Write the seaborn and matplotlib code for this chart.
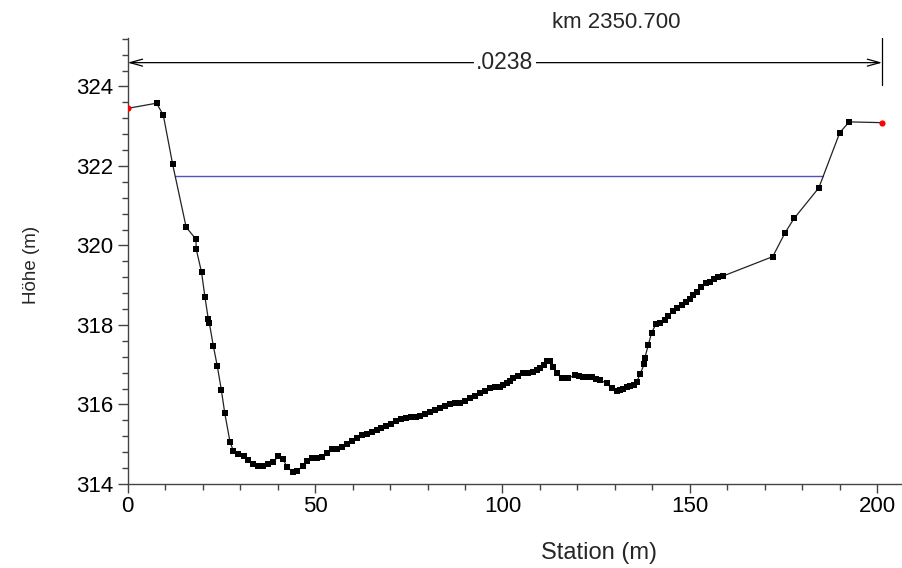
import matplotlib
matplotlib.use("Agg")
import matplotlib.pyplot as plt
from matplotlib.ticker import MultipleLocator
import seaborn as sns
import pandas as pd

# ---- data ----
station = [0, 7.7, 9.5, 12.0, 15.6, 18.2, 18.3, 19.7, 20.6, 21.5, 21.8, 22.85, 23.9, 25.0,
           25.9, 27.3, 28.2, 29.5, 30.9, 32.2, 33.5, 34.9, 36.2, 37.5, 38.9, 40.2, 41.4,
           42.6, 44.0, 45.3, 46.7, 47.8, 49.1, 50.4, 51.8, 53.1, 54.4, 55.8, 57.1, 58.4,
           59.8, 61.1, 62.4, 63.8, 65.1, 66.4, 67.7, 69.0, 70.3, 71.6, 72.9, 74.2, 75.5,
           76.8, 78.0, 79.3, 80.7, 82.0, 83.3, 84.6, 86.0, 87.3, 88.7, 90.0, 91.3, 92.6,
           94.0, 95.3, 96.7, 98.0, 99.3, 100.2, 101.1, 102.0, 102.9, 104.2, 105.5, 106.8,
           108.2, 109.1, 110.0, 111.0, 111.8, 112.7, 113.6, 114.5, 115.8, 117.6, 119.3,
           120.5, 121.6, 122.7, 123.8, 125.0, 126.0, 127.8, 129.1, 130.5, 131.3, 132.2,
           133.1, 134.0, 135.0, 135.8, 136.7, 137.8, 138.0, 138.9, 139.8, 141.0, 142.0,
           143.4, 144.2, 145.6, 146.6, 147.8, 148.9, 150.0, 150.9, 152.0, 153.1, 154.3,
           155.4, 156.4, 157.6, 158.8, 172.1, 175.4, 177.8, 184.4, 190.0, 192.5, 201.3]
elevation = [323.45, 323.58, 323.28, 322.04, 320.46, 320.16, 319.90, 319.33, 318.71, 318.15,
             318.04, 317.47, 316.97, 316.36, 315.78, 315.06, 314.83, 314.75, 314.70, 314.60,
             314.50, 314.45, 314.45, 314.50, 314.56, 314.70, 314.63, 314.42, 314.31, 314.33,
             314.45, 314.59, 314.65, 314.65, 314.67, 314.77, 314.88, 314.89, 314.92, 315.00,
             315.08, 315.15, 315.23, 315.27, 315.32, 315.36, 315.40, 315.46, 315.50, 315.58,
             315.63, 315.66, 315.68, 315.69, 315.71, 315.77, 315.82, 315.86, 315.90, 315.96,
             316.01, 316.03, 316.05, 316.10, 316.16, 316.22, 316.28, 316.35, 316.41, 316.43,
             316.45, 316.49, 316.53, 316.60, 316.66, 316.72, 316.78, 316.80, 316.83, 316.87,
             316.91, 317.00, 317.10, 317.10, 316.95, 316.78, 316.66, 316.66, 316.74, 316.72,
             316.70, 316.69, 316.68, 316.65, 316.62, 316.53, 316.41, 316.34, 316.36, 316.38,
             316.44, 316.47, 316.50, 316.56, 316.76, 317.01, 317.18, 317.50, 317.81, 318.03,
             318.06, 318.13, 318.23, 318.36, 318.42, 318.50, 318.59, 318.65, 318.75, 318.84,
             318.95, 319.05, 319.09, 319.16, 319.20, 319.23, 319.72, 320.32, 320.68, 321.45,
             322.84, 323.11, 323.09]
water_station = [12.6, 185.4]
water_level = [321.75, 321.75]
bank_station = [0, 201.3]
bank_elev = [323.45, 323.09]
bracket_label = ".0238"
title_text = "km 2350.700"
x_label = "Station (m)"
y_label = "Höhe (m)"
x_ticks = [0, 50, 100, 150, 200]
y_ticks = [314, 316, 318, 320, 322, 324]

sns.set_style("ticks")
plt.rcParams['font.family'] = ['Liberation Sans', 'DejaVu Sans']

W, H = 902, 568
fig = plt.figure(figsize=(W / 100, H / 100), dpi=100)
ax = fig.add_axes([127.7 / W, 84 / H, 1 - 127.7 / W, 446 / H])

df = pd.DataFrame({"Station": station, "Elev": elevation})
inner = df.iloc[1:-1]

sns.lineplot(x=water_station, y=water_level, ax=ax, color="#5050C0", lw=1.0, zorder=1)
sns.lineplot(data=df, x="Station", y="Elev", ax=ax, color="#222222", lw=0.9,
             sort=False, estimator=None, zorder=2)
sns.scatterplot(data=inner, x="Station", y="Elev", ax=ax, marker="s", s=22,
                color="black", edgecolor="black", linewidth=0, zorder=3)
sns.scatterplot(x=bank_station, y=bank_elev, ax=ax, marker="o", s=20,
                color="red", edgecolor="red", linewidth=0, zorder=4)

ax.set_xlim(0, 206.6)
ax.set_ylim(314, 325.22)
ax.set_xticks(x_ticks)
ax.set_yticks(y_ticks)
ax.xaxis.set_minor_locator(MultipleLocator(10))
ax.yaxis.set_minor_locator(MultipleLocator(0.4))
ax.tick_params(axis='x', which='major', length=6.5, width=1, color="#444444",
               labelsize=16, labelcolor="black", pad=2)
ax.tick_params(axis='y', which='major', length=7, width=1, color="#444444",
               labelsize=16, labelcolor="black", pad=3.5)
ax.tick_params(axis='both', which='minor', length=4, width=1, color="#444444")
for s in ["top", "right"]:
    ax.spines[s].set_visible(False)
for s in ["left", "bottom"]:
    ax.spines[s].set_color("#444444")
    ax.spines[s].set_linewidth(1)

ax.set_xlabel("")
ax.set_ylabel("")
fig.text(599 / W, 1 - 553 / H, x_label, ha="center", va="center", fontsize=17)
fig.text(31 / W, 1 - 265 / H, y_label, ha="center", va="center", fontsize=13.5,
         rotation=90)

# bracket with value
yb = 324.6
ax.annotate("", xy=(0, yb), xytext=(bank_station[1], yb),
            arrowprops=dict(arrowstyle="<->,head_length=0.9,head_width=0.25",
                            color="black", lw=0.9, shrinkA=0, shrinkB=0),
            annotation_clip=False)
ax.plot([bank_station[1], bank_station[1]], [324.04, 325.22], color="black", lw=0.9,
        clip_on=False)
ax.text(sum(bank_station) / 2, yb, bracket_label, ha="center", va="center",
        fontsize=16.5, bbox=dict(facecolor="white", edgecolor="none", pad=1.5))
fig.text(616 / W, 1 - 22 / H, title_text, ha="center", va="center", fontsize=16)

fig.savefig("out.png", dpi=100)
